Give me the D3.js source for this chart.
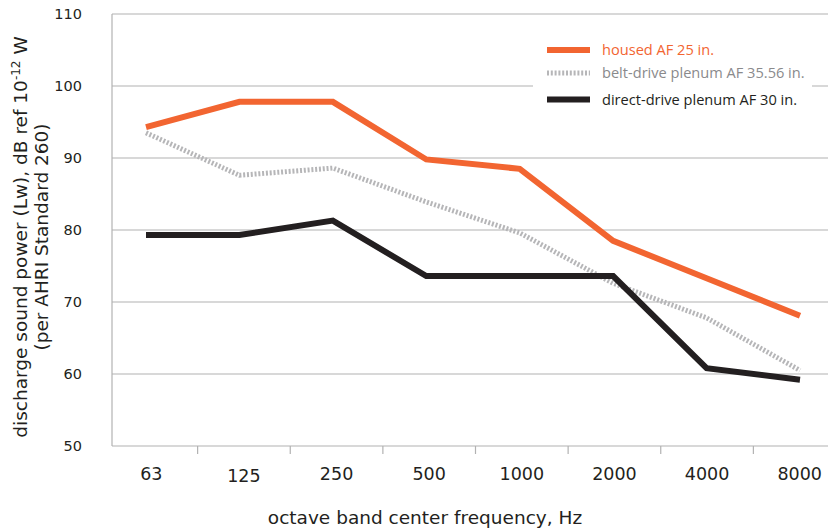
<!DOCTYPE html>
<html>
<head>
<meta charset="utf-8">
<script src="https://cdn.jsdelivr.net/npm/d3@7"></script>
<style>
  html, body { margin: 0; padding: 0; background: #fff; }
  svg { display: block; }
</style>
</head>
<body>
<svg id="chart" width="828" height="529"></svg>
<script>
// ---- data ----
const categories = ["63", "125", "250", "500", "1000", "2000", "4000", "8000"];
const housed = [94.3, 97.8, 97.8, 89.8, 88.5, 78.5, 73.3, 68.1];
const beltDrive = [93.5, 87.6, 88.6, 83.9, 79.6, 72.6, 67.8, 60.5];
const directDrive = [79.3, 79.3, 81.3, 73.6, 73.6, 73.6, 60.8, 59.2];
const yTicks = [50, 60, 70, 80, 90, 100, 110];
const seriesNames = ["housed AF 25 in.", "belt-drive plenum AF 35.56 in.", "direct-drive plenum AF 30 in."];

const series = [
  { name: seriesNames[0], values: housed, color: "#f26531", text: "#f26531", dash: null, width: 6 },
  { name: seriesNames[1], values: beltDrive, color: "#b6b6b8", text: "#8a8a8c", dash: "2,1.8", width: 5 },
  { name: seriesNames[2], values: directDrive, color: "#231f20", text: "#231f20", dash: null, width: 6 }
];

const svg = d3.select("#chart");
const mLeft = 112, mRight = 828, mTop = 14, mBottom = 446;
const axisFont = "DejaVu Sans, Verdana, sans-serif";

const y = d3.scaleLinear().domain([50, 110]).range([mBottom, mTop]);
const xBand = d3.scaleBand().domain(categories).range([105, 846]).padding(0);
const xPt = d3.scalePoint().domain(categories).range([146, 800]);

// gridlines
svg.append("g").selectAll("line").data(yTicks.filter(t => t !== 50)).join("line")
  .attr("x1", mLeft).attr("x2", mRight)
  .attr("y1", d => y(d)).attr("y2", d => y(d))
  .attr("stroke", "#b2b2b2").attr("stroke-width", 1.2);

// axis lines
svg.append("line").attr("x1", mLeft).attr("x2", mLeft).attr("y1", y(110)).attr("y2", mBottom)
  .attr("stroke", "#b2b2b2").attr("stroke-width", 1.2);
svg.append("line").attr("x1", mLeft).attr("x2", mRight).attr("y1", mBottom).attr("y2", mBottom)
  .attr("stroke", "#b2b2b2").attr("stroke-width", 1.2);

// x ticks between categories
svg.append("g").selectAll("line").data(categories.slice(1)).join("line")
  .attr("x1", d => xBand(d)).attr("x2", d => xBand(d))
  .attr("y1", mBottom).attr("y2", mBottom + 8)
  .attr("stroke", "#b2b2b2").attr("stroke-width", 1.2);

// y tick labels
svg.append("g").selectAll("text").data(yTicks).join("text")
  .attr("x", 82).attr("y", d => y(d)).attr("dy", "0.36em")
  .attr("text-anchor", "end")
  .attr("font-family", axisFont)
  .attr("font-size", 14.5).attr("fill", "#231f20")
  .text(d => d);

// x tick labels
svg.append("g").selectAll("text").data(categories).join("text")
  .attr("x", d => xBand(d) + xBand.bandwidth() / 2)
  .attr("y", d => d === "125" ? 482 : 480)
  .attr("text-anchor", "middle")
  .attr("font-family", axisFont)
  .attr("font-size", 17.5).attr("fill", "#231f20")
  .text(d => d);

// x axis title
svg.append("text")
  .attr("x", 425).attr("y", 524).attr("text-anchor", "middle")
  .attr("font-family", axisFont)
  .attr("font-size", 18.5).attr("fill", "#231f20")
  .text("octave band center frequency, Hz");

// y axis title (two lines, rotated)
const yt = svg.append("g").attr("transform", "translate(27,237) rotate(-90)");
const t1 = yt.append("text").attr("x", 0).attr("y", 0).attr("text-anchor", "middle")
  .attr("font-family", axisFont)
  .attr("font-size", 18.5).attr("fill", "#231f20");
t1.append("tspan").text("discharge sound power (Lw), dB ref 10");
t1.append("tspan").attr("font-size", 12).attr("dy", -7.5).text("-12");
t1.append("tspan").attr("dy", 7.5).text(" W");
yt.append("text").attr("x", 0).attr("y", 21).attr("text-anchor", "middle")
  .attr("font-family", axisFont)
  .attr("font-size", 18.5).attr("fill", "#231f20")
  .text("(per AHRI Standard 260)");

// lines
const line = d3.line().x((d, i) => xPt(categories[i])).y(d => y(d));
svg.append("g").selectAll("path").data([series[1], series[2], series[0]]).join("path")
  .attr("d", d => line(d.values))
  .attr("fill", "none")
  .attr("stroke", d => d.color)
  .attr("stroke-width", d => d.width)
  .attr("stroke-dasharray", d => d.dash)
  .attr("stroke-linejoin", "miter")
  .attr("stroke-linecap", "butt");

// legend
const lg = svg.append("g");
lg.append("rect").attr("x", 533).attr("y", 36).attr("width", 279).attr("height", 76).attr("fill", "#fff");
const rows = lg.selectAll("g.row").data(series).join("g")
  .attr("class", "row")
  .attr("transform", (d, i) => `translate(0, ${[50, 73, 99.5][i]})`);
rows.append("line")
  .attr("x1", 547).attr("x2", 590).attr("y1", 0).attr("y2", 0)
  .attr("stroke", d => d.color).attr("stroke-width", d => d.width)
  .attr("stroke-dasharray", d => d.dash);
rows.append("text")
  .attr("x", 602).attr("y", 5)
  .attr("font-family", "Open Sans, Noto Sans, sans-serif")
  .attr("font-size", 14.6)
  .attr("fill", d => d.text)
  .text(d => d.name);
</script>
</body>
</html>
